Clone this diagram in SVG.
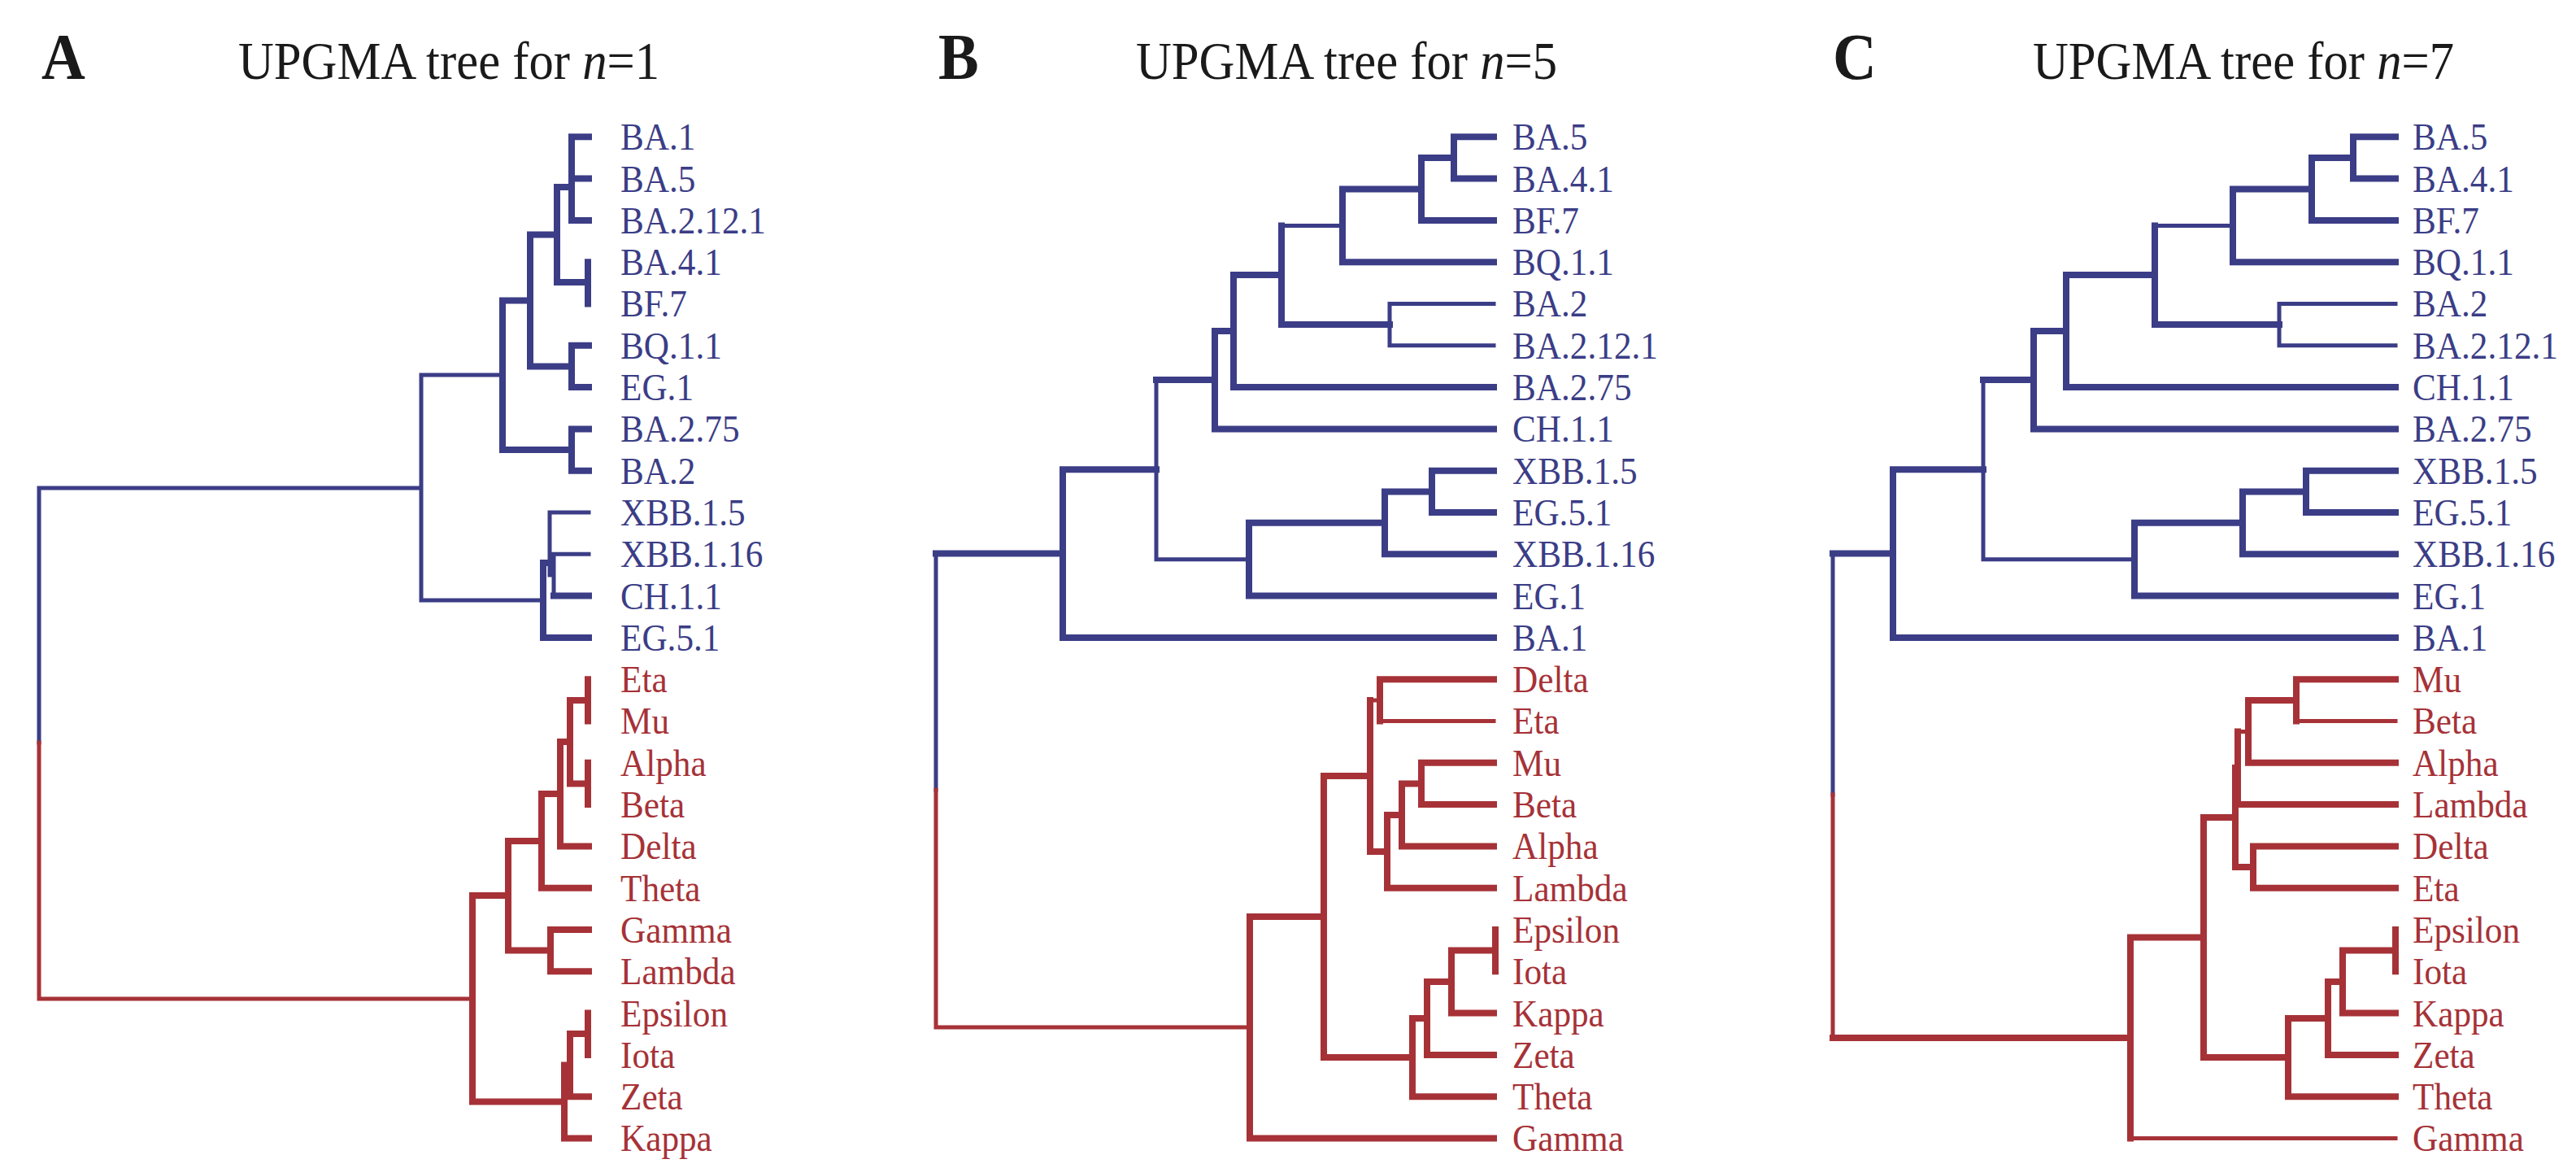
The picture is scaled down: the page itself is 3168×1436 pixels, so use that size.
<svg xmlns="http://www.w3.org/2000/svg" width="3168" height="1436" viewBox="0 0 3168 1436">
<style>
.bk{fill:#ffffff}
.e{fill:none;stroke-linecap:square;stroke-linejoin:miter}
.bt{stroke:#3b3d86;stroke-width:5}
.bT{stroke:#3b3d86;stroke-width:8}
.rt{stroke:#a63237;stroke-width:5}
.rT{stroke:#a63237;stroke-width:8}
.lb{font-family:"Liberation Serif","Times New Roman",serif;font-size:47px}
.bl{fill:#3b3d86}
.rd{fill:#a63237}
.ti{font-family:"Liberation Serif","Times New Roman",serif;font-size:66px;fill:#1a1a1a}
.pl{font-family:"Liberation Serif","Times New Roman",serif;font-size:81px;font-weight:bold;fill:#1a1a1a}
</style>
<rect class="bk" x="0" y="0" width="3168" height="1436"/>

<g id="titles">
<g id="label-A" transform="translate(51 97) scale(0.92 1)"><text class="pl" x="0" y="0">A</text></g>
<g id="title-A" transform="translate(293 97) scale(0.92 1)"><text class="ti" x="0" y="0">UPGMA tree for <tspan font-style="italic">n</tspan>=1</text></g>
<g id="label-B" transform="translate(1154 97) scale(0.92 1)"><text class="pl" x="0" y="0">B</text></g>
<g id="title-B" transform="translate(1397 97) scale(0.92 1)"><text class="ti" x="0" y="0">UPGMA tree for <tspan font-style="italic">n</tspan>=5</text></g>
<g id="label-C" transform="translate(2254 97) scale(0.92 1)"><text class="pl" x="0" y="0">C</text></g>
<g id="title-C" transform="translate(2500 97) scale(0.92 1)"><text class="ti" x="0" y="0">UPGMA tree for <tspan font-style="italic">n</tspan>=7</text></g>
</g>

<g id="connectors">
<!-- Panel A -->
<g id="conn-A">
<path class="e bT" d="M703 168.3V270.9M703 168.3H724M703 219.6H724M703 270.9H724M685 230H703M723 322.2V373.5M685 347H723M685 230V347M652 288.5H685M703 424.8V476.1M703 424.8H724M703 476.1H724M652 450.5H703M652 288.5V450.5M618 369.5H652M703 527.4V578.7M703 527.4H724M703 578.7H724M618 553H703M618 369.5V553"/>
<path class="e bt" d="M518 461H618M676 630H724M676 630V707M681 681.3H724M681 681.3V732.6M676 707H681M518 738H668M518 461V738M48 600H518M48 600V913"/>
<path class="e bT" d="M681 732.6H724M668 692V783.9M668 692H676M668 783.9H724"/>
<path class="e rT" d="M723 835.2V886.5M701 861H723M723 937.8V989.1M701 963.5H723M701 861V963.5M689 912H701M689 1040.4H724M689 912V1040.4M666 976H689M666 1091.7H724M666 976V1091.7M625 1034H666M677 1143V1194.3M677 1143H724M677 1194.3H724M625 1168.6H677M625 1034V1168.6M581 1101H625M723 1245.6V1296.9M701 1271H723M701 1348.2H724M701 1271V1348.2M694 1309.6H701M694 1399.5H724M694 1309.6V1399.5M581 1354.5H694M581 1101V1354.5"/>
<path class="e rt" d="M48 913V1228M48 1228H581"/>
</g>
<!-- Panel B -->
<g id="conn-B">
<path class="e bT" d="M1788 168.3V219.6M1788 168.3H1837M1788 219.6H1837M1748 194H1788M1748 270.9H1837M1748 194V270.9M1651 232.5H1748M1651 322.2H1837M1651 232.5V322.2M1576 399H1709M1576 277.4V399M1517 338H1576M1517 476.1H1837M1517 338V476.1M1494 407H1517M1494 527.4H1837M1494 407V527.4M1422 467H1494M1761 578.7V630M1761 578.7H1837M1761 630H1837M1703 604.4H1761M1703 681.3H1837M1703 604.4V681.3M1536 642.8H1703M1536 732.6H1837M1536 642.8V732.6M1307 577.3H1422M1307 783.9H1837M1307 577.3V783.9M1151 680.6H1307"/>
<path class="e bt" d="M1576 277.4H1651M1709 373.5H1837M1709 424.8H1837M1709 373.5V424.8M1422 687.7H1536M1422 467V687.7M1151 680.6V971"/>
<path class="e rT" d="M1697 835.2V886.5M1697 835.2H1837M1748 937.8V989.1M1748 937.8H1837M1748 989.1H1837M1724 963.5H1748M1724 1040.4H1837M1724 963.5V1040.4M1706 1002H1724M1706 1091.7H1837M1706 1002V1091.7M1685 1046.9H1706M1685 861V1046.9M1628 954H1685M1839 1143V1194.3M1785 1168.6H1839M1785 1245.6H1837M1785 1168.6V1245.6M1755 1207H1785M1755 1296.9H1837M1755 1207V1296.9M1737 1252H1755M1737 1348.2H1837M1737 1252V1348.2M1628 1300H1737M1628 954V1300M1537 1127H1628M1537 1399.5H1837M1537 1127V1399.5"/>
<path class="e rt" d="M1697 886.5H1837M1685 861H1697M1151 971V1263M1151 1263H1537"/>
</g>
<!-- Panel C -->
<g id="conn-C">
<path class="e bT" d="M2894 168.3V219.6M2894 168.3H2946M2894 219.6H2946M2843 194H2894M2843 270.9H2946M2843 194V270.9M2746 232.5H2843M2746 322.2H2946M2746 232.5V322.2M2650 399H2803M2650 277.4V399M2541 338H2650M2541 476.1H2946M2541 338V476.1M2501 407H2541M2501 527.4H2946M2501 407V527.4M2439 467H2501M2836 578.7V630M2836 578.7H2946M2836 630H2946M2758 604.4H2836M2758 681.3H2946M2758 604.4V681.3M2625 642.8H2758M2625 732.6H2946M2625 642.8V732.6M2328 577.3H2439M2328 783.9H2946M2328 577.3V783.9M2254 680.6H2328"/>
<path class="e bt" d="M2650 277.4H2746M2803 373.5V424.8M2803 373.5H2946M2803 424.8H2946M2439 687.7H2625M2439 467V687.7M2254 680.6V977"/>
<path class="e rT" d="M2824 835.2V886.5M2824 835.2H2946M2765 861H2824M2765 937.8H2946M2765 861V937.8M2752 989.1H2946M2752 899.4V989.1M2771 1040.4V1091.7M2771 1040.4H2946M2771 1091.7H2946M2749 1066H2771M2749 944V1066M2710 1005H2749M2946 1143V1194.3M2881 1168.6H2946M2881 1245.6H2946M2881 1168.6V1245.6M2863 1207H2881M2863 1296.9H2946M2863 1207V1296.9M2814 1252H2863M2814 1348.2H2946M2814 1252V1348.2M2710 1300H2814M2710 1005V1300M2620 1152.5H2710M2620 1152.5V1399.5M2254 1276H2620"/>
<path class="e rt" d="M2824 886.5H2946M2752 899.4H2765M2620 1399.5H2946M2254 977V1276"/>
</g>
</g>

<g id="nodes-A" class="lb" transform="translate(763 0) scale(0.92 1)">
<g id="A-BA-1"><text class="bl" x="0" y="184.3">BA.1</text></g>
<g id="A-BA-5"><text class="bl" x="0" y="235.6">BA.5</text></g>
<g id="A-BA-2-12-1"><text class="bl" x="0" y="286.9">BA.2.12.1</text></g>
<g id="A-BA-4-1"><text class="bl" x="0" y="338.2">BA.4.1</text></g>
<g id="A-BF-7"><text class="bl" x="0" y="389.5">BF.7</text></g>
<g id="A-BQ-1-1"><text class="bl" x="0" y="440.8">BQ.1.1</text></g>
<g id="A-EG-1"><text class="bl" x="0" y="492.1">EG.1</text></g>
<g id="A-BA-2-75"><text class="bl" x="0" y="543.4">BA.2.75</text></g>
<g id="A-BA-2"><text class="bl" x="0" y="594.7">BA.2</text></g>
<g id="A-XBB-1-5"><text class="bl" x="0" y="646">XBB.1.5</text></g>
<g id="A-XBB-1-16"><text class="bl" x="0" y="697.3">XBB.1.16</text></g>
<g id="A-CH-1-1"><text class="bl" x="0" y="748.6">CH.1.1</text></g>
<g id="A-EG-5-1"><text class="bl" x="0" y="799.9">EG.5.1</text></g>
<g id="A-Eta"><text class="rd" x="0" y="851.2">Eta</text></g>
<g id="A-Mu"><text class="rd" x="0" y="902.5">Mu</text></g>
<g id="A-Alpha"><text class="rd" x="0" y="953.8">Alpha</text></g>
<g id="A-Beta"><text class="rd" x="0" y="1005.1">Beta</text></g>
<g id="A-Delta"><text class="rd" x="0" y="1056.4">Delta</text></g>
<g id="A-Theta"><text class="rd" x="0" y="1107.7">Theta</text></g>
<g id="A-Gamma"><text class="rd" x="0" y="1159">Gamma</text></g>
<g id="A-Lambda"><text class="rd" x="0" y="1210.3">Lambda</text></g>
<g id="A-Epsilon"><text class="rd" x="0" y="1261.6">Epsilon</text></g>
<g id="A-Iota"><text class="rd" x="0" y="1312.9">Iota</text></g>
<g id="A-Zeta"><text class="rd" x="0" y="1364.2">Zeta</text></g>
<g id="A-Kappa"><text class="rd" x="0" y="1415.5">Kappa</text></g>
</g>

<g id="nodes-B" class="lb" transform="translate(1860 0) scale(0.92 1)">
<g id="B-BA-5"><text class="bl" x="0" y="184.3">BA.5</text></g>
<g id="B-BA-4-1"><text class="bl" x="0" y="235.6">BA.4.1</text></g>
<g id="B-BF-7"><text class="bl" x="0" y="286.9">BF.7</text></g>
<g id="B-BQ-1-1"><text class="bl" x="0" y="338.2">BQ.1.1</text></g>
<g id="B-BA-2"><text class="bl" x="0" y="389.5">BA.2</text></g>
<g id="B-BA-2-12-1"><text class="bl" x="0" y="440.8">BA.2.12.1</text></g>
<g id="B-BA-2-75"><text class="bl" x="0" y="492.1">BA.2.75</text></g>
<g id="B-CH-1-1"><text class="bl" x="0" y="543.4">CH.1.1</text></g>
<g id="B-XBB-1-5"><text class="bl" x="0" y="594.7">XBB.1.5</text></g>
<g id="B-EG-5-1"><text class="bl" x="0" y="646">EG.5.1</text></g>
<g id="B-XBB-1-16"><text class="bl" x="0" y="697.3">XBB.1.16</text></g>
<g id="B-EG-1"><text class="bl" x="0" y="748.6">EG.1</text></g>
<g id="B-BA-1"><text class="bl" x="0" y="799.9">BA.1</text></g>
<g id="B-Delta"><text class="rd" x="0" y="851.2">Delta</text></g>
<g id="B-Eta"><text class="rd" x="0" y="902.5">Eta</text></g>
<g id="B-Mu"><text class="rd" x="0" y="953.8">Mu</text></g>
<g id="B-Beta"><text class="rd" x="0" y="1005.1">Beta</text></g>
<g id="B-Alpha"><text class="rd" x="0" y="1056.4">Alpha</text></g>
<g id="B-Lambda"><text class="rd" x="0" y="1107.7">Lambda</text></g>
<g id="B-Epsilon"><text class="rd" x="0" y="1159">Epsilon</text></g>
<g id="B-Iota"><text class="rd" x="0" y="1210.3">Iota</text></g>
<g id="B-Kappa"><text class="rd" x="0" y="1261.6">Kappa</text></g>
<g id="B-Zeta"><text class="rd" x="0" y="1312.9">Zeta</text></g>
<g id="B-Theta"><text class="rd" x="0" y="1364.2">Theta</text></g>
<g id="B-Gamma"><text class="rd" x="0" y="1415.5">Gamma</text></g>
</g>

<g id="nodes-C" class="lb" transform="translate(2967 0) scale(0.92 1)">
<g id="C-BA-5"><text class="bl" x="0" y="184.3">BA.5</text></g>
<g id="C-BA-4-1"><text class="bl" x="0" y="235.6">BA.4.1</text></g>
<g id="C-BF-7"><text class="bl" x="0" y="286.9">BF.7</text></g>
<g id="C-BQ-1-1"><text class="bl" x="0" y="338.2">BQ.1.1</text></g>
<g id="C-BA-2"><text class="bl" x="0" y="389.5">BA.2</text></g>
<g id="C-BA-2-12-1"><text class="bl" x="0" y="440.8">BA.2.12.1</text></g>
<g id="C-CH-1-1"><text class="bl" x="0" y="492.1">CH.1.1</text></g>
<g id="C-BA-2-75"><text class="bl" x="0" y="543.4">BA.2.75</text></g>
<g id="C-XBB-1-5"><text class="bl" x="0" y="594.7">XBB.1.5</text></g>
<g id="C-EG-5-1"><text class="bl" x="0" y="646">EG.5.1</text></g>
<g id="C-XBB-1-16"><text class="bl" x="0" y="697.3">XBB.1.16</text></g>
<g id="C-EG-1"><text class="bl" x="0" y="748.6">EG.1</text></g>
<g id="C-BA-1"><text class="bl" x="0" y="799.9">BA.1</text></g>
<g id="C-Mu"><text class="rd" x="0" y="851.2">Mu</text></g>
<g id="C-Beta"><text class="rd" x="0" y="902.5">Beta</text></g>
<g id="C-Alpha"><text class="rd" x="0" y="953.8">Alpha</text></g>
<g id="C-Lambda"><text class="rd" x="0" y="1005.1">Lambda</text></g>
<g id="C-Delta"><text class="rd" x="0" y="1056.4">Delta</text></g>
<g id="C-Eta"><text class="rd" x="0" y="1107.7">Eta</text></g>
<g id="C-Epsilon"><text class="rd" x="0" y="1159">Epsilon</text></g>
<g id="C-Iota"><text class="rd" x="0" y="1210.3">Iota</text></g>
<g id="C-Kappa"><text class="rd" x="0" y="1261.6">Kappa</text></g>
<g id="C-Zeta"><text class="rd" x="0" y="1312.9">Zeta</text></g>
<g id="C-Theta"><text class="rd" x="0" y="1364.2">Theta</text></g>
<g id="C-Gamma"><text class="rd" x="0" y="1415.5">Gamma</text></g>
</g>
</svg>
